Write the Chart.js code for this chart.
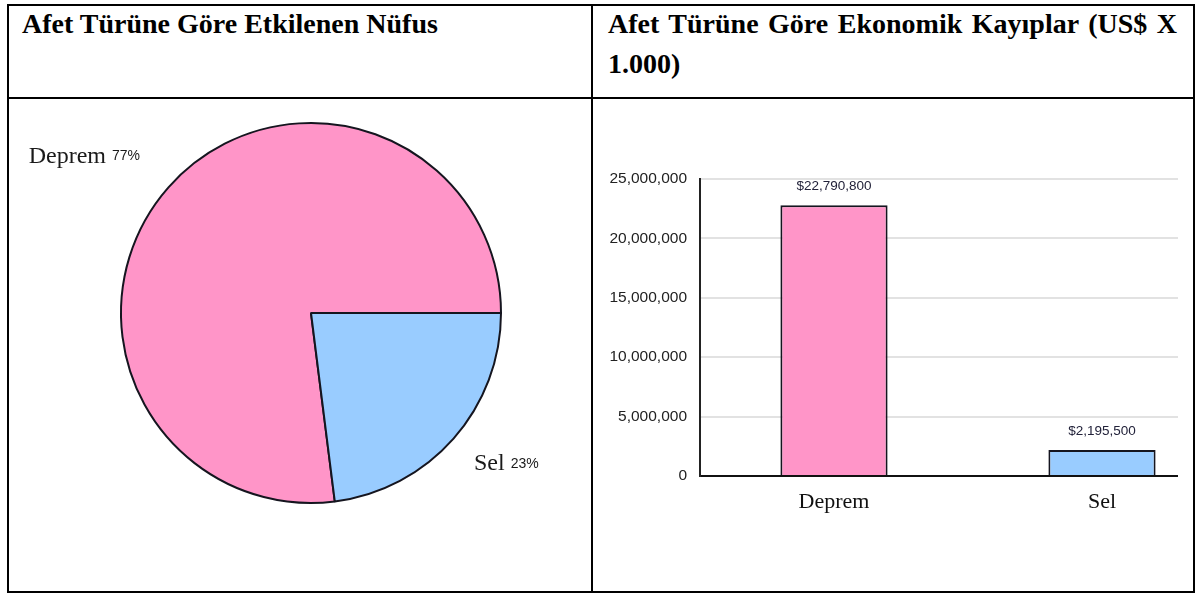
<!DOCTYPE html>
<html lang="tr">
<head>
<meta charset="utf-8">
<title>Afet Türüne Göre Etkiler</title>
<script src="https://cdn.jsdelivr.net/npm/chart.js@4.4.1/dist/chart.umd.min.js"></script>
<style>
  html, body { margin: 0; padding: 0; background: #fff; }
  body { width: 1198px; height: 594px; position: relative; overflow: hidden; }
  .rule { position: absolute; background: #000; }
  .head {
    position: absolute;
    font-family: "Liberation Serif", "Times New Roman", serif;
    font-weight: bold;
    font-size: 28px;
    line-height: 40px;
    color: #000;
  }
  .head.right { text-align: justify; }
  .box { position: absolute; }
  .clip { position: absolute; overflow: hidden; }
</style>
</head>
<body>
<!-- table frame -->
<div class="rule" style="left:7px;top:4px;width:1188px;height:2px"></div>
<div class="rule" style="left:7px;top:591px;width:1188px;height:2px"></div>
<div class="rule" style="left:7px;top:4px;width:2px;height:589px"></div>
<div class="rule" style="left:1193px;top:4px;width:2px;height:589px"></div>
<div class="rule" style="left:591px;top:4px;width:2px;height:589px"></div>
<div class="rule" style="left:7px;top:97px;width:1188px;height:2px"></div>

<div class="head" style="left:22px;top:4px;width:560px">Afet Türüne Göre Etkilenen Nüfus</div>
<div class="head right" style="left:608px;top:4px;width:569px">Afet Türüne Göre Ekonomik Kayıplar (US$ X 1.000)</div>

<div class="box" style="left:9px;top:99px;width:582px;height:492px">
  <canvas id="pie"></canvas>
</div>
<div class="clip" style="left:593px;top:99px;width:585px;height:492px">
  <div class="box" style="left:3px;top:0;width:640px;height:492px">
    <canvas id="bar"></canvas>
  </div>
</div>

<script>
const pieLabels = ['Deprem', 'Sel'];
const pieShares = [77, 23];

const lossLabels = ['Deprem', 'Sel'];
const lossValues = [22790800, 2195500];
const lossStep = 5000000;
const lossMax = 25000000;

const pink = '#FF95C8';
const blue = '#99CCFF';
const edge = '#15151f';

const fmt = v => v.toLocaleString('en-US');

// names + percentages placed just outside each slice
const pieLabelPlugin = {
    id: 'pieLabels',
    afterDatasetsDraw(chart) {
        const ctx = chart.ctx;
        const meta = chart.getDatasetMeta(0);
        const total = pieShares.reduce((a, b) => a + b, 0);
        const nameFont = '24px "Liberation Serif", serif';
        const pctFont = '14px "Liberation Sans", Arial, sans-serif';
        meta.data.forEach((arc, i) => {
            const mid = (arc.startAngle + arc.endAngle) / 2;
            const r = arc.outerRadius * 1.2;
            const x = arc.x + Math.cos(mid) * r;
            const y = arc.y + Math.sin(mid) * r;
            const name = pieLabels[i];
            const pct = Math.round(pieShares[i] / total * 100) + '%';
            ctx.save();
            ctx.textBaseline = 'middle';
            ctx.textAlign = 'left';
            ctx.fillStyle = '#1a1a1a';
            ctx.font = nameFont;
            const wName = ctx.measureText(name + ' ').width;
            ctx.font = pctFont;
            const wPct = ctx.measureText(pct).width;
            const left = Math.cos(mid) < 0 ? x - wName - wPct : x - 8;
            const top = Math.sin(mid) < 0 ? y - 6 : y;
            ctx.font = nameFont;
            ctx.fillText(name, left, top);
            ctx.font = pctFont;
            ctx.fillText(pct, left + wName, top);
            ctx.restore();
        });
    }
};

// dollar value above each bar
const barValuePlugin = {
    id: 'barValues',
    afterDatasetsDraw(chart) {
        const ctx = chart.ctx;
        const meta = chart.getDatasetMeta(0);
        ctx.save();
        ctx.font = '13.5px "Liberation Sans", Arial, sans-serif';
        ctx.fillStyle = '#22223a';
        ctx.textAlign = 'center';
        ctx.textBaseline = 'bottom';
        meta.data.forEach((bar, i) => {
            ctx.fillText('$' + fmt(lossValues[i]), bar.x, bar.y - 12);
        });
        ctx.restore();
    }
};

const totalShare = pieShares.reduce((a, b) => a + b, 0);

new Chart(document.getElementById('pie'), {
    type: 'pie',
    data: {
        labels: pieLabels,
        datasets: [{
            data: pieShares,
            backgroundColor: [pink, blue],
            borderColor: edge,
            borderWidth: 2,
            hoverOffset: 0
        }]
    },
    options: {
        responsive: true,
        maintainAspectRatio: false,
        animation: false,
        radius: 190,
        // first slice ends at 3 o'clock, second runs clockwise from there
        rotation: 90 + 360 * pieShares[1] / totalShare,
        layout: { padding: { left: 22, right: 0, top: 4, bottom: 68 } },
        plugins: {
            legend: { display: false },
            tooltip: { enabled: false }
        }
    },
    plugins: [pieLabelPlugin]
});

new Chart(document.getElementById('bar'), {
    type: 'bar',
    data: {
        labels: lossLabels,
        datasets: [{
            data: lossValues,
            backgroundColor: [pink, blue],
            borderColor: edge,
            borderWidth: 2,
            borderSkipped: 'bottom',
            barPercentage: 0.4,
            categoryPercentage: 1
        }]
    },
    options: {
        responsive: true,
        maintainAspectRatio: false,
        animation: false,
        layout: { padding: { left: 0, right: 0, top: 80, bottom: 55 } },
        plugins: {
            legend: { display: false },
            tooltip: { enabled: false }
        },
        scales: {
            x: {
                afterFit(scale) { scale.height = 60; },
                grid: { display: false },
                border: { color: '#111', width: 2 },
                ticks: {
                    color: '#111',
                    padding: 5,
                    font: { family: '"Liberation Serif", serif', size: 22 }
                }
            },
            y: {
                min: 0,
                max: lossMax,
                afterFit(scale) { scale.width = 104; },
                grid: {
                    drawTicks: false,
                    lineWidth: 2,
                    color: ctx => ctx.tick && ctx.tick.value === 0 ? 'rgba(0,0,0,0)' : '#e2e2e2'
                },
                border: { color: '#222', width: 2 },
                ticks: {
                    stepSize: lossStep,
                    padding: 13,
                    color: '#222',
                    font: { family: '"Liberation Sans", Arial, sans-serif', size: 15.5 },
                    callback: v => fmt(v)
                }
            }
        }
    },
    plugins: [barValuePlugin]
});
</script>
</body>
</html>
